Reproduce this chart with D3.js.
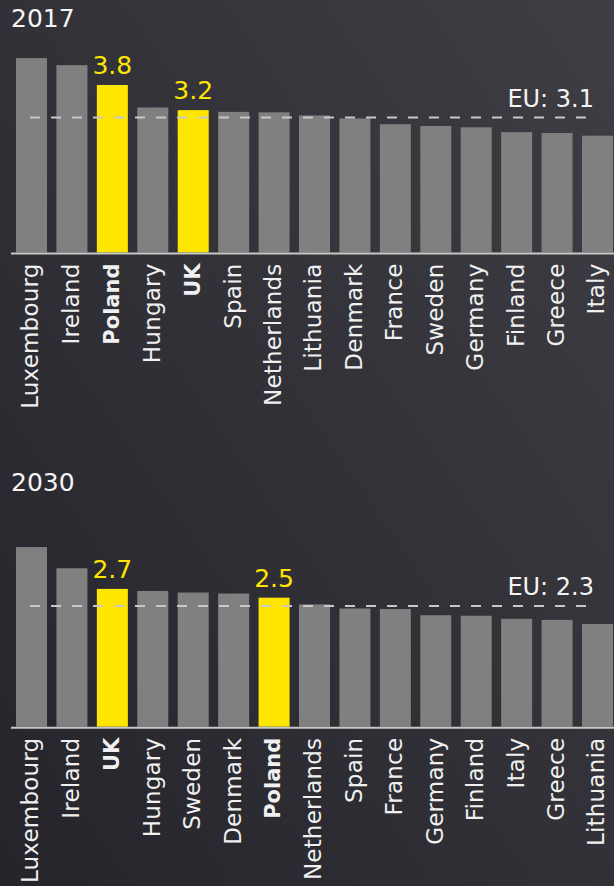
<!DOCTYPE html>
<html>
<head>
<meta charset="utf-8">
<script src="https://cdn.jsdelivr.net/npm/d3@7"></script>
<style>
  html, body { margin: 0; padding: 0; background: #2c2c32; }
  svg { display: block; }
  text { font-family: "DejaVu Sans", Verdana, sans-serif; }
</style>
</head>
<body>
<div id="chart-area"></div>
<script>
// 2017 panel
var countries2017 = ["Luxembourg", "Ireland", "Poland", "Hungary", "UK", "Spain", "Netherlands",
    "Lithuania", "Denmark", "France", "Sweden", "Germany", "Finland", "Greece", "Italy"];
var values2017 = [4.41, 4.25, 3.80, 3.29, 3.23, 3.19, 3.18, 3.11, 3.04, 2.91, 2.87, 2.84, 2.73, 2.71, 2.65];
var eu2017 = 3.06;

// 2030 panel
var countries2030 = ["Luxembourg", "Ireland", "UK", "Hungary", "Sweden", "Denmark", "Poland",
    "Netherlands", "Spain", "France", "Germany", "Finland", "Italy", "Greece", "Lithuania"];
var values2030 = [3.48, 3.07, 2.67, 2.63, 2.60, 2.58, 2.50, 2.37, 2.29, 2.28, 2.16, 2.15, 2.09, 2.07, 1.99];
var eu2030 = 2.34;

var highlighted = ["Poland", "UK"];

var W = 614, H = 886;

var svg = d3.select("#chart-area")
    .append("svg")
        .attr("width", W)
        .attr("height", H);

// background gradient
var grad = svg.append("defs").append("linearGradient")
    .attr("id", "bg")
    .attr("x1", "0").attr("y1", "1")
    .attr("x2", "1").attr("y2", "0");
grad.append("stop").attr("offset", "0%").attr("stop-color", "#24242a");
grad.append("stop").attr("offset", "100%").attr("stop-color", "#3e3e44");

svg.append("rect")
    .attr("width", W)
    .attr("height", H)
    .attr("fill", "url(#bg)");

function drawPanel(year, countries, values, eu, base, top, titleY) {
    var g = svg.append("g");

    // X Scale
    var x = d3.scaleBand()
        .domain(countries)
        .range([16, 613])
        .paddingInner(0.233)
        .paddingOuter(0);

    // Y Scale
    var y = d3.scaleLinear()
        .domain([0, d3.max(values)])
        .range([base, top]);

    var data = countries.map(function(c, i) { return { country: c, value: values[i] }; });

    // title
    g.append("text")
        .attr("x", 11)
        .attr("y", titleY)
        .attr("font-size", "25px")
        .attr("fill", "#f4f4f4")
        .text(year);

    // Bars
    g.selectAll("rect.bar")
        .data(data)
        .enter()
        .append("rect")
            .attr("class", "bar")
            .attr("x", function(d) { return x(d.country); })
            .attr("y", function(d) { return y(d.value); })
            .attr("width", x.bandwidth())
            .attr("height", function(d) { return base - y(d.value); })
            .attr("fill", function(d) { return highlighted.indexOf(d.country) >= 0 ? "#ffe600" : "#808080"; });

    // value labels for highlighted bars
    g.selectAll("text.val")
        .data(data.filter(function(d) { return highlighted.indexOf(d.country) >= 0; }))
        .enter()
        .append("text")
            .attr("class", "val")
            .attr("x", function(d) { return x(d.country) + x.bandwidth() / 2; })
            .attr("y", function(d) { return y(d.value) - 11; })
            .attr("text-anchor", "middle")
            .attr("font-size", "25px")
            .attr("fill", "#ffe600")
            .text(function(d) { return d.value.toFixed(1); });

    // EU average line
    g.append("line")
        .attr("x1", 30)
        .attr("x2", 594)
        .attr("y1", y(eu))
        .attr("y2", y(eu))
        .attr("stroke", "#c8c8c8")
        .attr("stroke-width", 2)
        .attr("stroke-dasharray", "10,11");

    g.append("text")
        .attr("x", 594)
        .attr("y", y(eu) - 11)
        .attr("text-anchor", "end")
        .attr("font-size", "24px")
        .attr("fill", "#f4f4f4")
        .text("EU: " + eu.toFixed(1));

    // X Axis (labels only)
    var xAxisCall = d3.axisBottom(x).tickSize(0);
    var ax = g.append("g")
        .attr("class", "x axis")
        .attr("transform", "translate(0," + base + ")")
        .call(xAxisCall);
    ax.select(".domain").remove();
    ax.selectAll("text")
        .attr("transform", "rotate(-90)")
        .attr("x", -11)
        .attr("y", 0)
        .attr("dy", "0.3em")
        .attr("text-anchor", "end")
        .attr("fill", "#f0f0f0")
        .attr("letter-spacing", function(d) { return highlighted.indexOf(d) >= 0 ? "0px" : "0.2px"; })
        .attr("font-size", function(d) { return highlighted.indexOf(d) >= 0 ? "21px" : "23px"; })
        .attr("font-weight", function(d) { return highlighted.indexOf(d) >= 0 ? "bold" : "normal"; });

    // baseline
    g.append("line")
        .attr("x1", 11)
        .attr("x2", W)
        .attr("y1", base + 1)
        .attr("y2", base + 1)
        .attr("stroke", "#c8c8c8")
        .attr("stroke-width", 2);
}

drawPanel("2017", countries2017, values2017, eu2017, 252.5, 58.1, 27);
drawPanel("2030", countries2030, values2030, eu2030, 726.7, 547.1, 490.5);
</script>
</body>
</html>
